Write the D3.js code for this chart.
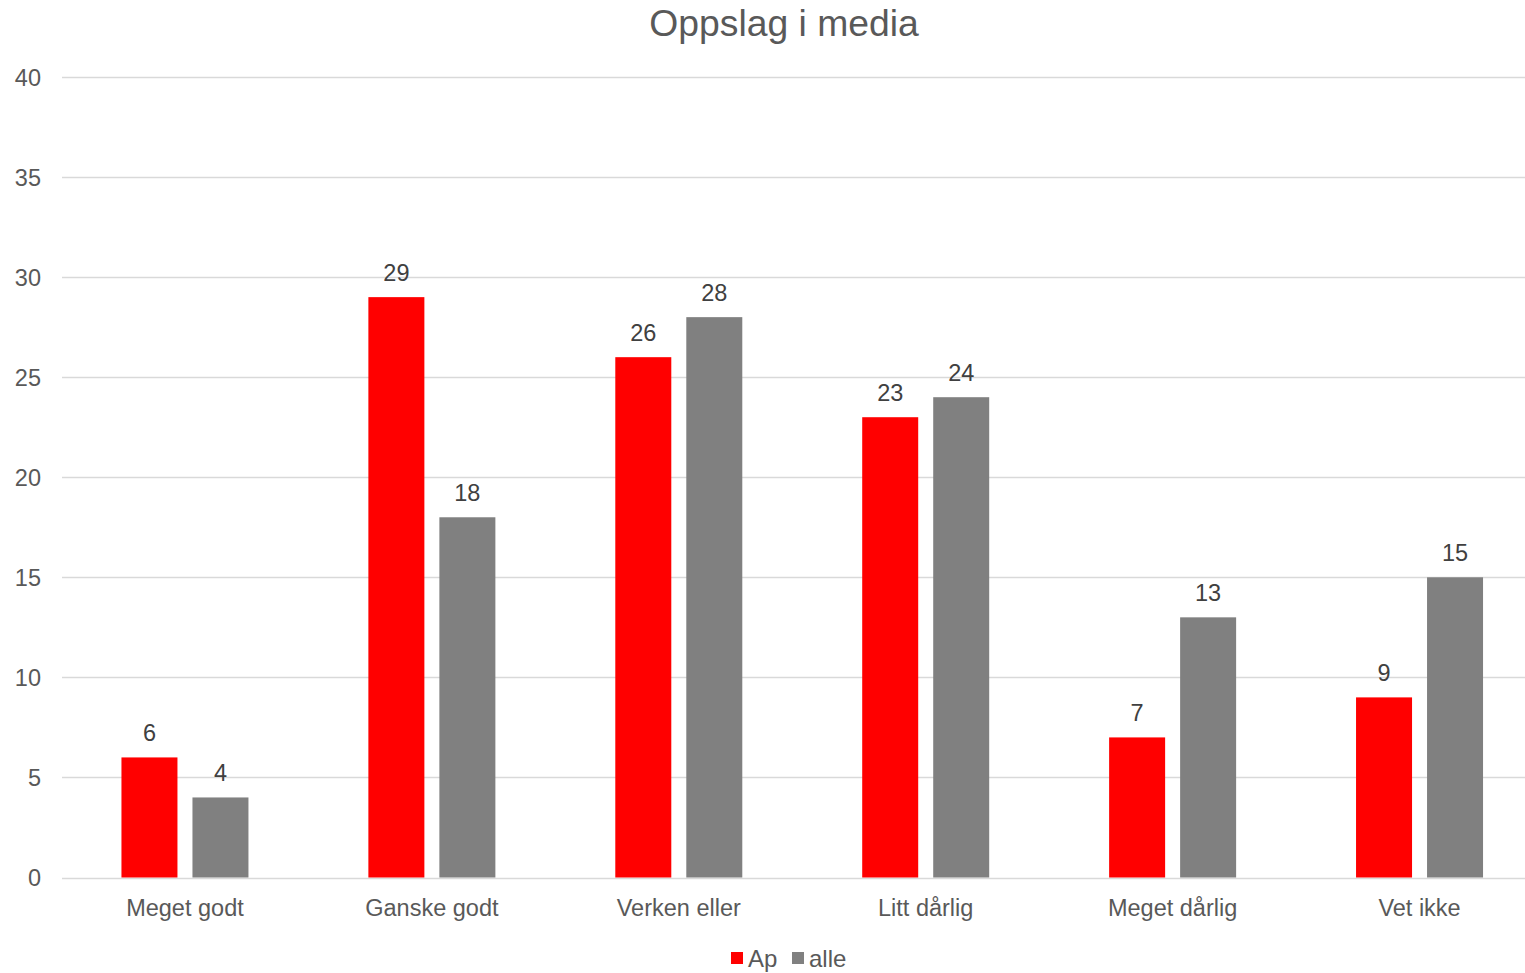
<!DOCTYPE html>
<html lang="no">
<head>
<meta charset="UTF-8" />
<title>Oppslag i media</title>
<script src="https://cdn.jsdelivr.net/npm/d3@7"></script>
<style>
  body { margin: 0; background: #fff; }
  text { font-family: "Liberation Sans", Arial, sans-serif; }
</style>
</head>
<body>
<div id="chart"></div>
<script>
const categories = ['Meget godt', 'Ganske godt', 'Verken eller', 'Litt dårlig', 'Meget dårlig', 'Vet ikke']
const seriesNames = ['Ap', 'alle']
const apValues = [6, 29, 26, 23, 7, 9]
const alleValues = [4, 18, 28, 24, 13, 15]
const yTicks = [0, 5, 10, 15, 20, 25, 30, 35, 40]

const W = 1525, H = 973
const m = { top: 77, right: 0, bottom: 95, left: 62 }
const colors = { Ap: '#ff0000', alle: '#808080' }

const svg = d3.select('#chart').append('svg')
  .attr('width', W).attr('height', H)

// the plot runs a bit past the right edge of the picture, as in the original
const x = d3.scaleBand().domain(categories)
  .range([m.left - 0.5, 1543]).paddingInner(0).paddingOuter(0)
const y = d3.scaleLinear().domain([0, 40]).range([H - m.bottom - 0.5, m.top])

// inner band for the two bars: 56px bars, 15px gap
const barW = 56, gap = 15
const xs = d3.scaleOrdinal().domain(seriesNames)
  .range([-gap / 2 - barW, gap / 2])

// gridlines
svg.append('g').selectAll('line').data(yTicks).join('line')
  .attr('x1', m.left).attr('x2', W - m.right)
  .attr('y1', d => Math.round(y(d)) + 0.5).attr('y2', d => Math.round(y(d)) + 0.5)
  .attr('stroke', '#d9d9d9').attr('stroke-width', 1.5)

// y tick labels
svg.append('g').selectAll('text').data(yTicks).join('text')
  .attr('x', 41).attr('y', d => y(d) + 8.5)
  .attr('text-anchor', 'end')
  .attr('font-size', 23.5).attr('fill', '#595959')
  .text(d => d)

const rows = categories.map((c, i) => ({ cat: c, Ap: apValues[i], alle: alleValues[i] }))

const groups = svg.append('g').selectAll('g').data(rows).join('g')
  .attr('transform', d => `translate(${x(d.cat) + x.bandwidth() / 2},0)`)

groups.selectAll('rect').data(d => seriesNames.map(s => ({ s, v: d[s] }))).join('rect')
  .attr('x', d => xs(d.s))
  .attr('width', barW)
  .attr('y', d => y(d.v))
  .attr('height', d => y(0) - y(d.v))
  .attr('fill', d => colors[d.s])

groups.selectAll('text.lbl').data(d => seriesNames.map(s => ({ s, v: d[s] }))).join('text')
  .attr('class', 'lbl')
  .attr('x', d => xs(d.s) + barW / 2)
  .attr('y', d => y(d.v) - 16.5)
  .attr('text-anchor', 'middle')
  .attr('font-size', 23.5).attr('fill', '#404040')
  .text(d => d.v)

// x labels
svg.append('g').selectAll('text').data(categories).join('text')
  .attr('x', d => x(d) + x.bandwidth() / 2)
  .attr('y', H - m.bottom + 38)
  .attr('text-anchor', 'middle')
  .attr('font-size', 23.5).attr('fill', '#595959')
  .text(d => d)

// title
svg.append('text')
  .attr('x', 784).attr('y', 36)
  .attr('text-anchor', 'middle')
  .attr('font-size', 37.3).attr('fill', '#595959')
  .text('Oppslag i media')

// legend
const legendX = [731, 792]
const leg = svg.append('g').selectAll('g').data(seriesNames).join('g')
  .attr('transform', (d, i) => `translate(${legendX[i]},952)`)
leg.append('rect').attr('width', 12).attr('height', 12).attr('fill', d => colors[d])
leg.append('text').attr('x', 17).attr('y', 14.5)
  .attr('font-size', 24).attr('fill', '#595959')
  .text(d => d)
</script>
</body>
</html>
